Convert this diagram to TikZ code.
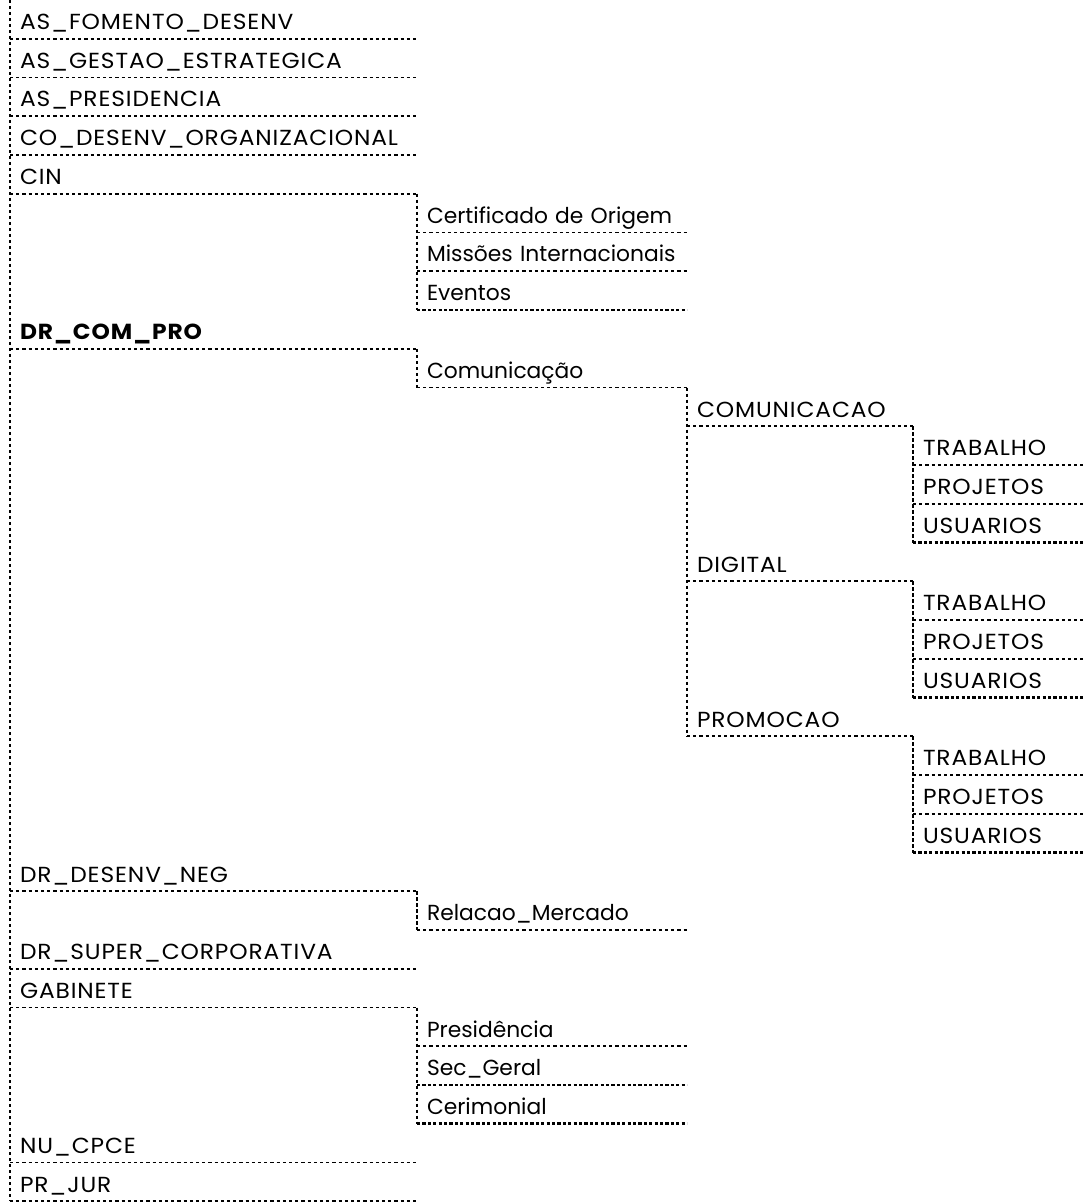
\documentclass[tikz,border=0pt]{standalone}
\usepackage{fontspec}
\setmainfont{Poppins}
\newfontfamily\capsfont[FakeStretch=1.07,LetterSpace=4]{Poppins}
\begin{document}
\begin{tikzpicture}[x=0.5pt,y=-0.5pt,
  cell/.style={inner xsep=5pt, inner ysep=0pt, outer sep=0pt, anchor=north west,
    text height=14.75pt, text depth=4.625pt, align=left,
    font=\fontsize{10.9}{13}\selectfont},
  lv0/.style={cell, text width=193.5pt},
  lv1/.style={cell, text width=125pt},
  lv2/.style={cell, text width=103pt},
  lv3/.style={cell, text width=75pt},
  uline/.style={line width=0.9pt, dash pattern=on 1.6pt off 1.5pt},
  heavy/.style={line width=1.3pt, dash pattern=on 1.6pt off 1.1pt},
  vline/.style={line width=1.1pt, dash pattern=on 1.7pt off 1.3pt}]
\useasboundingbox (0,0) rectangle (1083,1203);
% rows (row top = 38.75 * index)
\node[lv0] (r0) at (10,0) {\mbox{\capsfont AS\_FOMENTO\_DESENV}};
\node[lv0] (r1) at (10,38.75) {\mbox{\capsfont AS\_GESTAO\_ESTRATEGICA}};
\node[lv0] (r2) at (10,77.5) {\mbox{\capsfont AS\_PRESIDENCIA}};
\node[lv0] (r3) at (10,116.25) {\mbox{\capsfont CO\_DESENV\_ORGANIZACIONAL}};
\node[lv0] (r4) at (10,155) {\mbox{\capsfont CIN}};
\node[lv1] (r5) at (417,193.75) {\mbox{Certificado de Origem}};
\node[lv1] (r6) at (417,232.5) {\mbox{Missões Internacionais}};
\node[lv1] (r7) at (417,271.25) {\mbox{Eventos}};
\node[lv0] (r8) at (10,310) {\mbox{\capsfont\bfseries DR\_COM\_PRO}};
\node[lv1] (r9) at (417,348.75) {\mbox{Comunicação}};
\node[lv2] (r10) at (687,387.5) {\mbox{\capsfont COMUNICACAO}};
\node[lv3] (r11) at (913,426.25) {\mbox{\capsfont TRABALHO}};
\node[lv3] (r12) at (913,465) {\mbox{\capsfont PROJETOS}};
\node[lv3] (r13) at (913,503.75) {\mbox{\capsfont USUARIOS}};
\node[lv2] (r14) at (687,542.5) {\mbox{\capsfont DIGITAL}};
\node[lv3] (r15) at (913,581.25) {\mbox{\capsfont TRABALHO}};
\node[lv3] (r16) at (913,620) {\mbox{\capsfont PROJETOS}};
\node[lv3] (r17) at (913,658.75) {\mbox{\capsfont USUARIOS}};
\node[lv2] (r18) at (687,697.5) {\mbox{\capsfont PROMOCAO}};
\node[lv3] (r19) at (913,736.25) {\mbox{\capsfont TRABALHO}};
\node[lv3] (r20) at (913,775) {\mbox{\capsfont PROJETOS}};
\node[lv3] (r21) at (913,813.75) {\mbox{\capsfont USUARIOS}};
\node[lv0] (r22) at (10,852.5) {\mbox{\capsfont DR\_DESENV\_NEG}};
\node[lv1] (r23) at (417,891.25) {\mbox{Relacao\_Mercado}};
\node[lv0] (r24) at (10,930) {\mbox{\capsfont DR\_SUPER\_CORPORATIVA}};
\node[lv0] (r25) at (10,968.75) {\mbox{\capsfont GABINETE}};
\node[lv1] (r26) at (417,1007.5) {\mbox{Presidência}};
\node[lv1] (r27) at (417,1046.25) {\mbox{Sec\_Geral}};
\node[lv1] (r28) at (417,1085) {\mbox{Cerimonial}};
\node[lv0] (r29) at (10,1123.75) {\mbox{\capsfont NU\_CPCE}};
\node[lv0] (r30) at (10,1162.5) {\mbox{\capsfont PR\_JUR}};
% underlines
\foreach \n in {0,1,2,3,4,5,6,8,9,10,11,12,14,15,16,18,19,20,22,23,24,25,26,29,30}
  \draw[uline] (r\n.south west) -- (r\n.south east);
\foreach \n in {7,13,17,21,27,28}
  \draw[heavy] (r\n.south west) -- (r\n.south east);
% vertical connectors
\draw[vline] (r0.north west) -- (r30.south west);
\draw[vline] (r4.south east) -- (r7.south west);
\draw[vline] (r8.south east) -- (r9.south west);
\draw[vline] (r9.south east) -- (r18.south west);
\draw[vline] (r10.south east) -- (r13.south west);
\draw[vline] (r14.south east) -- (r17.south west);
\draw[vline] (r18.south east) -- (r21.south west);
\draw[vline] (r22.south east) -- (r23.south west);
\draw[vline] (r25.south east) -- (r28.south west);
\end{tikzpicture}
\end{document}
